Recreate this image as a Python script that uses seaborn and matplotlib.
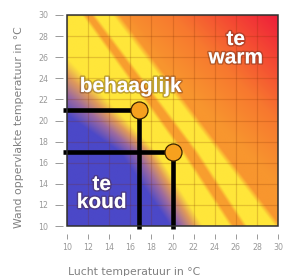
import numpy as np
import pandas as pd
import seaborn as sns
import matplotlib.pyplot as plt
import matplotlib.patheffects as pe
from matplotlib.colors import to_rgb
from matplotlib.patches import Rectangle

# axis ticks (degrees C)
x_ticks = list(range(10, 31, 2))
y_ticks = list(range(10, 31, 2))

# the two example situations: air temperature vs wall temperature
air_temp = [16.8, 20.0]
wall_temp = [21.0, 17.0]

# colour bands: air temperature where each colour stop sits,
# read at a wall temperature of 10, 17 and 30 degrees
band_wall = [10, 17, 30]
cold_edge = [19.8, 15.0, -3.5]
mauve_edge = [20.9, 16.6, 1.0]
brown_edge = [22.0, 17.7, 4.0]
comfort_in = [22.9, 18.5, 6.2]
stripe_a = [25.4, 20.8, 11.4]
stripe_b = [25.8, 21.2, 11.8]
stripe_c = [26.7, 22.1, 12.3]
stripe_d = [27.1, 22.5, 12.7]
comfort_out = [29.7, 24.3, 14.3]
warm_edge = [30.3, 24.9, 15.0]
band_colors = ['#4b48c8', '#9c6aa0', '#e09a5a', '#ffe63a', '#ffe63a',
               '#f89e2e', '#f89e2e', '#ffe63a', '#ffe63a', '#f8962e']

# warm side goes from orange to red with air + wall temperature
warm_sum = [44, 50, 55, 60]
warm_colors = ['#f8962e', '#f7782f', '#f44a33', '#ee1e3a']

# build the background picture
edges = [cold_edge, mauve_edge, brown_edge, comfort_in, stripe_a,
         stripe_b, stripe_c, stripe_d, comfort_out, warm_edge]
band_rgb = np.array([to_rgb(c) for c in band_colors])
warm_rgb = np.array([to_rgb(c) for c in warm_colors])
grid = np.linspace(10, 30, 300)
gx, gy = np.meshgrid(grid, grid)
img = np.zeros((len(grid), len(grid), 3))
outer = np.zeros(len(grid))
for i, wall in enumerate(grid):
    pos = [np.interp(wall, band_wall, e) for e in edges]
    outer[i] = pos[-1]
    for ch in range(3):
        img[i, :, ch] = np.interp(grid, pos, band_rgb[:, ch])
warm = np.stack([np.interp(gx + gy, warm_sum, warm_rgb[:, ch])
                 for ch in range(3)], axis=-1)
w = np.clip(gx - outer[:, None], 0, 1)[..., None]
img = img * (1 - w) + warm * w

# Setting the seaborn style
sns.set_theme(style='white')
plt.rcParams['font.family'] = ['DejaVu Sans']

fig = plt.figure(figsize=(2.84, 2.76), dpi=100)
ax = fig.add_axes([67 / 284, 1 - 226 / 276, 211 / 284, 211 / 276])
ax.imshow(img, extent=[10, 30, 10, 30], origin='lower', aspect='auto',
          interpolation='bilinear', zorder=0)

# guide lines from the axes to each situation
rows = []
for k, (a, b) in enumerate(zip(air_temp, wall_temp)):
    rows += [(k, 10 - 0.38, b), (k, a, b), (k, a, 10 - 0.25)]
guides = pd.DataFrame(rows, columns=['case', 'air', 'wall'])
sns.lineplot(data=guides, x='air', y='wall', units='case', estimator=None,
             sort=False, color='black', lw=3.3, ax=ax, zorder=4)
for line in ax.lines:
    line.set_clip_on(False)
    line.set_solid_capstyle('butt')
    line.set_solid_joinstyle('miter')

sns.scatterplot(x=air_temp, y=wall_temp, s=150, color='#f7a11e',
                edgecolor='#3a2200', linewidth=0.9, ax=ax, zorder=5,
                clip_on=False)

ax.set_xlim(10, 30)
ax.set_ylim(10, 30)
ax.set_xticks(x_ticks)
ax.set_yticks(y_ticks)
ax.set_xlabel('')
ax.set_ylabel('')
ax.grid(True, color='#7a2a00', alpha=0.2, lw=0.9)

for side in ['top', 'right', 'bottom', 'left']:
    ax.spines[side].set_visible(False)
ax.spines['bottom'].set_position(('outward', 5.5))
ax.spines['left'].set_position(('outward', 3.1))
ax.add_patch(Rectangle((0, 0), 1, 1, transform=ax.transAxes, fill=False,
                       ec='#303030', lw=1.1, clip_on=False, zorder=6))
ax.tick_params(axis='x', bottom=True, direction='out', length=3.6,
               width=0.7, color='#999999', pad=3.2, labelsize=5.7,
               labelcolor='#999999')
ax.tick_params(axis='y', left=True, direction='out', length=6,
               width=0.7, color='#999999', pad=4.3, labelsize=5.7,
               labelcolor='#999999')

fig.text(134 / 284, 1 - 274.7 / 276, 'Lucht temperatuur in °C',
         ha='center', va='baseline', fontsize=7.8, color='#808080')
fig.text(19 / 284, 1 - 127.5 / 276, 'Wand oppervlakte temperatuur in °C',
         ha='center', va='center', rotation=90, fontsize=7.8,
         color='#808080')

# zone labels
halo = [pe.withStroke(linewidth=2.2, foreground=(0.3, 0.15, 0.1, 0.35))]
zone_labels = [('behaaglijk', 16.07, 22.7), ('te', 26.0, 27.16),
               ('warm', 26.0, 25.42), ('te', 13.3, 13.41),
               ('koud', 13.3, 11.71)]
for text, tx, ty in zone_labels:
    ax.text(tx, ty, text, ha='center', va='baseline', color='white',
            fontsize=15, fontweight='bold', family='Liberation Sans',
            path_effects=halo, zorder=3)

fig.savefig('out.png', dpi=100)
